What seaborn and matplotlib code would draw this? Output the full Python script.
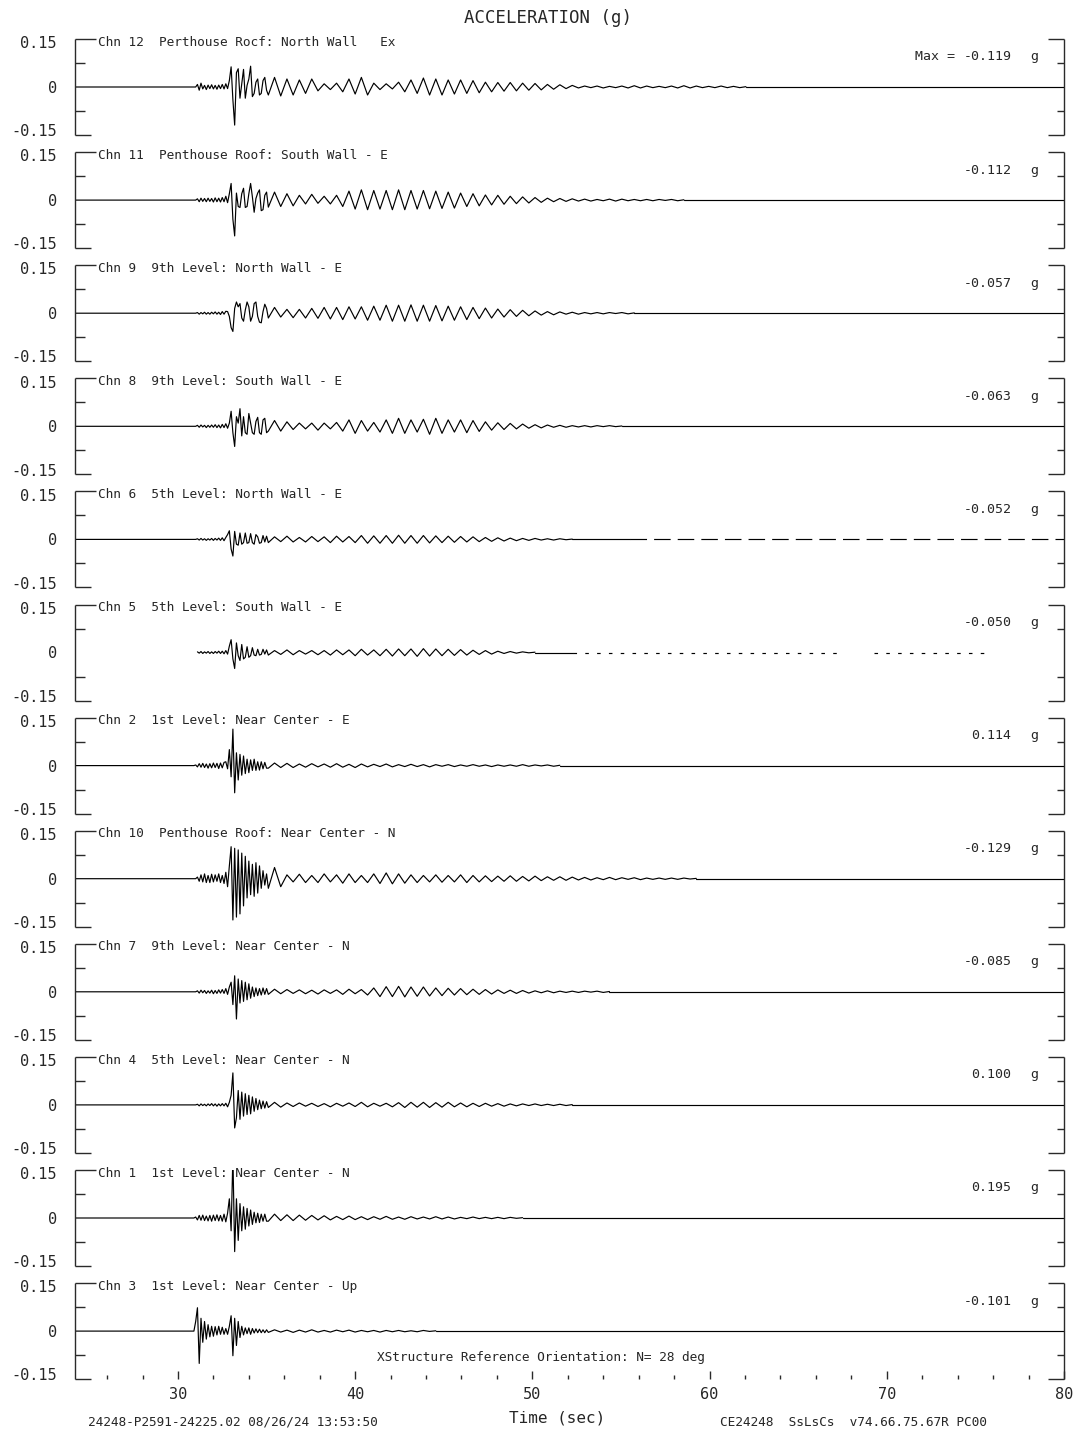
import numpy as np
import matplotlib.pyplot as plt
import seaborn as sns

sns.set_theme(style="white")
plt.rcParams['font.family'] = ['DejaVu Sans Mono', 'DejaVu Sans']

# time axis of the record (sec)
T_START, T_END = 24.19, 80.0
BURST_T0, BURST_DT = 30.9, 0.1    # strong-motion part, read every 0.1 s
TAIL_T0, TAIL_DT = 35.1, 0.35     # later part, read at each half cycle

channels = [
    "Chn 12  Perthouse Rocf: North Wall   Ex",
    "Chn 11  Penthouse Roof: South Wall - E",
    "Chn 9  9th Level: North Wall - E",
    "Chn 8  9th Level: South Wall - E",
    "Chn 6  5th Level: North Wall - E",
    "Chn 5  5th Level: South Wall - E",
    "Chn 2  1st Level: Near Center - E",
    "Chn 10  Penthouse Roof: Near Center - N",
    "Chn 7  9th Level: Near Center - N",
    "Chn 4  5th Level: Near Center - N",
    "Chn 1  1st Level: Near Center - N",
    "Chn 3  1st Level: Near Center - Up",
]
peaks = ["-0.119", "-0.112", "-0.057", "-0.063", "-0.052", "-0.050",
         "0.114", "-0.129", "-0.085", "0.100", "0.195", "-0.101"]

# accelerations in milli-g
burst_12 = [0, 0, 8, -10, 12, -6, 5, -8, 6, -5, 7, -6, 5, -7, 6, -5, 8, -6, 10, -5,
            20, 63, -40, -119, 45, 57, -35, 10, 55, -35, 5, 25, 65, -30, -20, 15, 25, -25, -20, 20, 30, -10]
tail_12 = [-25, 30, -28, 25, -25, 22, -20, 25, -12, 10, -8, 12, -15, 25, -22, 30, -25, 12, -8, 10,
           -6, 15, -15, 22, -20, 28, -25, 25, -25, 22, -22, 22, -20, 20, -18, 15, -15, 14, -13, 14,
           -12, 12, -10, 11, -9, 8, -7, 7, -5, 5, -3, 3, -2, 3, -3, 2, -2, 3, -3, 4,
           -3, 3, -2, 2, -2, 3, -3, 4, -3, 3, -2, 2, -2, 3, -2, 2, -2, 1]

burst_11 = [0, 0, 4, -5, 6, -4, 5, -5, 6, -4, 5, -6, 7, -5, 6, -6, 8, -5, 12, -8,
            20, 52, -60, -112, 22, -20, -23, 20, 37, -23, -20, 20, 52, 10, -38, 5, 22, 32, -33, -30, 15, 25]
tail_11 = [-22, 25, -20, 20, -18, 15, -12, 18, -10, 12, -12, 15, -20, 28, -28, 32, -30, 30, -28, 30,
           -30, 32, -30, 30, -28, 30, -27, 28, -26, 25, -25, 22, -20, 20, -18, 16, -15, 15, -13, 12,
           -11, 10, -9, 8, -7, 6, -5, 5, -4, 4, -3, 3, -3, 2, -2, 3, -3, 3, -2, 2,
           -2, 2, -2, 2, -1, 2, -2, 1]

burst_9 = [0, 0, 2, -3, 2, -2, 3, -3, 2, -3, 3, -2, 4, -3, 3, -4, 5, -3, 6, 5,
           -10, -45, -57, 15, 35, 20, 30, -15, -25, 10, 35, 20, -25, -10, 30, 35, -10, -28, -30, 5, 28, 15]
tail_9 = [-15, 18, -12, 12, -14, 12, -15, 15, -16, 18, -18, 18, -20, 20, -18, 20, -22, 22, -22, 25,
          -25, 25, -25, 26, -25, 25, -25, 24, -24, 22, -22, 20, -20, 18, -17, 16, -15, 13, -12, 11,
          -10, 9, -8, 7, -6, 5, -5, 4, -3, 3, -3, 2, -2, 2, -2, 2, -1, 2, -2, 1]

burst_8 = [0, 0, 3, -3, 4, -2, 3, -4, 3, -3, 4, -3, 5, -4, 4, -5, 6, -4, 8, -6,
           10, 47, -20, -63, 30, 10, 55, -30, 30, -20, -25, 40, 10, -20, -25, 15, 28, -20, -25, 20, 25, -20]
tail_8 = [-15, 18, -15, 14, -10, 10, -8, 10, -12, 10, -8, 12, -15, 20, -22, 18, -15, 12, -18, 20,
          -22, 25, -22, 20, -18, 22, -25, 25, -22, 20, -18, 20, -20, 18, -16, 14, -12, 11, -10, 9,
          -8, 7, -6, 5, -5, 4, -3, 3, -3, 2, -2, 2, -2, 2, -1, 2, -1, 1]

burst_6 = [0, 0, 2, -2, 3, -2, 2, -3, 2, -2, 3, -3, 3, -2, 4, -3, 5, -4, 6, 15,
           27, -30, -52, 25, -15, -18, 20, -15, -10, 20, -12, -10, 18, -10, -15, 15, 8, -12, -10, 12, -8, 10]
tail_6 = [-10, 8, -7, 10, -8, 6, -8, 9, -7, 8, -10, 10, -8, 9, -10, 12, -12, 11, -12, 12,
          -12, 13, -12, 12, -12, 12, -11, 11, -10, 10, -9, 9, -8, 8, -7, 6, -6, 5, -5, 4,
          -4, 3, -3, 3, -2, 2, -2, 2, -1, 1]

burst_5 = [None, None, 2, -2, 3, -3, 2, -2, 3, -3, 2, -3, 3, -2, 4, -3, 4, -4, 6, -5,
           20, 40, -20, -50, 30, -10, -25, 25, -20, -15, 18, -15, -10, 15, -8, -10, 10, -8, -6, 10, -5, 8]
tail_5 = [-8, 6, -6, 8, -7, 6, -5, 6, -7, 6, -8, 8, -7, 8, -10, 10, -8, 8, -10, 10,
          -11, 11, -10, 11, -12, 12, -11, 11, -10, 10, -9, 9, -8, 7, -6, 6, -5, 4, -3, 3,
          -2, 2, -1, 1]

burst_2 = [0, 2, -4, 6, -5, 7, -6, 5, -8, 6, -7, 8, -6, 7, -9, 8, -7, 10, 12, -10,
           50, -35, 114, -85, 40, -45, 35, -30, 30, -25, 20, -22, 18, -15, 20, -15, 12, -14, 12, -10, 10, -8]
tail_2 = [-8, 8, -6, 7, -6, 5, -5, 6, -4, 5, -5, 6, -5, 4, -6, 5, -4, 4, -3, 5,
          -4, 3, -3, 4, -3, 3, -4, 3, -2, 3, -3, 2, -2, 3, -2, 2, -3, 2, -2, 2,
          -2, 3, -2, 2, -1, 2, -2, 1]

burst_10 = [0, 0, 5, -8, 12, -10, 15, -12, 10, -12, 14, -10, 12, -8, 15, -12, 10, -15, 20, -25,
            40, 100, -129, 95, -120, 90, -110, 80, -85, 70, -60, 55, -50, 45, -55, 50, -45, 40, -30, 25, -20, 15]
tail_10 = [-30, 35, -25, 12, -10, 14, -12, 10, -12, 15, -10, 12, -14, 15, -12, 10, -12, 15, -15, 18,
           -16, 15, -14, 12, -12, 10, -10, 12, -11, 10, -10, 12, -12, 10, -10, 9, -9, 8, -8, 9,
           -8, 7, -7, 8, -6, 6, -5, 6, -5, 5, -4, 4, -4, 3, -3, 4, -3, 3, -2, 3,
           -3, 2, -2, 2, -2, 2, -2, 2, -1, 1]

burst_7 = [0, 0, 3, -4, 5, -3, 4, -5, 3, -4, 5, -6, 4, -5, 6, -4, 7, -5, 10, -8,
           15, 30, -40, 50, -85, 40, -35, 35, -30, 30, -25, 25, -20, 15, -15, 12, -12, 10, -10, 12, -8, 10]
tail_7 = [-8, 8, -6, 7, -5, 6, -6, 5, -7, 6, -5, 6, -8, 8, -6, 7, -10, 12, -15, 16,
          -15, 17, -16, 15, -14, 15, -13, 12, -12, 11, -10, 10, -9, 8, -8, 7, -7, 6, -5, 5,
          -5, 4, -4, 3, -3, 3, -3, 2, -2, 2, -2, 2, -1, 2, -2, 1]

burst_4 = [0, 0, 2, -3, 3, -2, 2, -3, 3, -2, 4, -3, 3, -4, 3, -3, 4, -3, 5, -6,
           8, 30, 100, -72, -40, 45, -45, 40, -35, 35, -30, 30, -28, 25, -20, 20, -15, 15, -12, 12, -10, 10]
tail_4 = [-8, 8, -7, 6, -5, 6, -4, 5, -5, 4, -6, 5, -4, 6, -5, 8, -6, 5, -4, 5,
          -6, 7, -8, 8, -7, 8, -8, 7, -7, 8, -6, 6, -6, 5, -5, 5, -4, 4, -4, 3,
          -3, 3, -2, 3, -2, 2, -2, 2, -2, 1]

burst_1 = [0, 3, -6, 8, -7, 9, -8, 6, -9, 8, -10, 9, -8, 10, -9, 8, -10, 12, -12, 15,
           60, -40, 195, -105, 60, -70, 45, -40, 35, -35, 30, -25, 25, -20, 18, -15, 15, -14, 12, -10, 12, -10]
tail_1 = [-10, 12, -8, 10, -8, 9, -7, 8, -6, 7, -6, 5, -5, 6, -5, 4, -5, 4, -4, 5,
          -4, 3, -4, 4, -3, 3, -3, 4, -3, 3, -3, 2, -2, 3, -2, 2, -2, 2, -2, 2, -1, 1]

burst_3 = [0, 30, 73, -101, 40, -35, 30, -25, 20, -18, 15, -16, 14, -12, 15, -10, 12, -10, 8, -10,
           15, 48, -77, 40, -45, 30, -20, 15, -12, 10, -8, 10, -10, 8, -6, 7, -5, 6, -5, 4, -5, 4]
tail_3 = [-4, 4, -3, 3, -4, 3, -3, 4, -3, 2, -3, 3, -2, 3, -3, 2, -2, 2, -3, 2,
          -2, 2, -2, 1, -2, 2, -1, 1]

bursts = [burst_12, burst_11, burst_9, burst_8, burst_6, burst_5,
          burst_2, burst_10, burst_7, burst_4, burst_1, burst_3]
tails = [tail_12, tail_11, tail_9, tail_8, tail_6, tail_5,
         tail_2, tail_10, tail_7, tail_4, tail_1, tail_3]

# how the quiet end of the record is drawn (start, end, line style); None = end of tail data
DASHED = (0, (14, 6))
DOTTED = (0, (3, 7))
quiet_default = [(None, T_END, '-')]
quiet_6 = [(None, 55.5, '-'), (55.5, T_END, DASHED)]
quiet_5 = [(None, 52.3, '-'), (52.3, 67.2, DOTTED), (69.3, 75.7, DOTTED)]
quiet = [quiet_default, quiet_default, quiet_default, quiet_default, quiet_6, quiet_5,
         quiet_default, quiet_default, quiet_default, quiet_default, quiet_default, quiet_default]


def build_series(burst, tail):
    t, v = [], []
    if burst[0] is not None:
        t.append(T_START)
        v.append(0.0)
    for i, val in enumerate(burst):
        if val is None:
            continue
        t.append(BURST_T0 + i * BURST_DT)
        v.append(val / 1000)
    for k, val in enumerate(tail):
        t.append(TAIL_T0 + k * TAIL_DT)
        v.append(val / 1000)
    return np.array(t), np.array(v)


W, H = 1073, 1435
fig = plt.figure(figsize=(W / 100, H / 100), dpi=100)
fig.patch.set_facecolor('white')

frame_kw = dict(color='#2a2a2a', lw=1.0, clip_on=False, solid_capstyle='butt')
left_px, right_px = 75, 1064
n = len(channels)

for i in range(n):
    zero_px = 87 + 113.1 * i
    ax = fig.add_axes([left_px / W, 1 - (zero_px + 48) / H, (right_px - left_px) / W, 96 / H])
    ax.set_facecolor('none')

    t, v = build_series(bursts[i], tails[i])
    sns.lineplot(x=t, y=v, ax=ax, color='black', linewidth=0.85, estimator=None, sort=False)
    for a, b, ls in quiet[i]:
        a = t[-1] if a is None else a
        ax.plot([a, b], [0, 0], color='black', lw=0.85, linestyle=ls)

    ax.set_xlim(T_START, T_END)
    ax.set_ylim(-0.15, 0.15)
    for s in ax.spines.values():
        s.set_visible(False)

    # plotter style frame
    ytr = ax.get_yaxis_transform()
    ax.plot([0, 0], [-0.15, 0.15], transform=ytr, **frame_kw)
    ax.plot([1, 1], [-0.15, 0.15], transform=ytr, **frame_kw)
    ax.plot([0, 0.021], [0.15, 0.15], transform=ytr, **frame_kw)
    ax.plot([0, 0.016], [-0.15, -0.15], transform=ytr, **frame_kw)
    ax.plot([0.984, 1], [0.15, 0.15], transform=ytr, **frame_kw)
    ax.plot([0.984, 1], [-0.15, -0.15], transform=ytr, **frame_kw)
    for yy in (0.075, -0.075):
        ax.plot([0, 0.010], [yy, yy], transform=ytr, **frame_kw)
        ax.plot([0.993, 1], [yy, yy], transform=ytr, **frame_kw)

    ax.set_yticks([0.14, 0, -0.135])
    ax.set_yticklabels(['0.15', '0', '-0.15'])
    ax.tick_params(axis='y', length=0, pad=13, labelsize=11)

    ax.text(0.023, 0.14, channels[i], transform=ytr, ha='left', va='center', fontsize=9.2)
    ax.text(0.947, 0.094, peaks[i], transform=ytr, ha='right', va='center', fontsize=9.5)
    ax.text(0.970, 0.094, 'g', transform=ytr, ha='center', va='center', fontsize=9.5)
    if i == 0:
        ax.text(0.89, 0.094, 'Max =', transform=ytr, ha='right', va='center', fontsize=9.5)

    if i == n - 1:
        ax.set_xticks(np.arange(30, 81, 10))
        ax.set_xticks(np.arange(26, 80, 2), minor=True)
        ax.tick_params(axis='x', which='major', direction='in', length=6, width=1.0,
                       color='#2a2a2a', bottom=True, labelsize=11, pad=6)
        ax.tick_params(axis='x', which='minor', direction='in', length=3, width=1.0,
                       color='#2a2a2a', bottom=True)
        ax.text(0.471, -0.081, 'XStructure Reference Orientation: N= 28 deg', transform=ytr,
                ha='center', va='center', fontsize=9.2)
    else:
        ax.set_xticks([])

fig.text(548 / W, 1 - 18 / H, 'ACCELERATION (g)', ha='center', va='center', fontsize=12.5)
fig.text(557 / W, 1 - 1418 / H, 'Time (sec)', ha='center', va='center', fontsize=11.5)
fig.text(88 / W, 1 - 1422 / H, '24248-P2591-24225.02 08/26/24 13:53:50', ha='left', va='center', fontsize=9.2)
fig.text(720 / W, 1 - 1422 / H, 'CE24248  SsLsCs  v74.66.75.67R PC00', ha='left', va='center', fontsize=9.2)

fig.savefig('out.png', dpi=100, facecolor='white')
